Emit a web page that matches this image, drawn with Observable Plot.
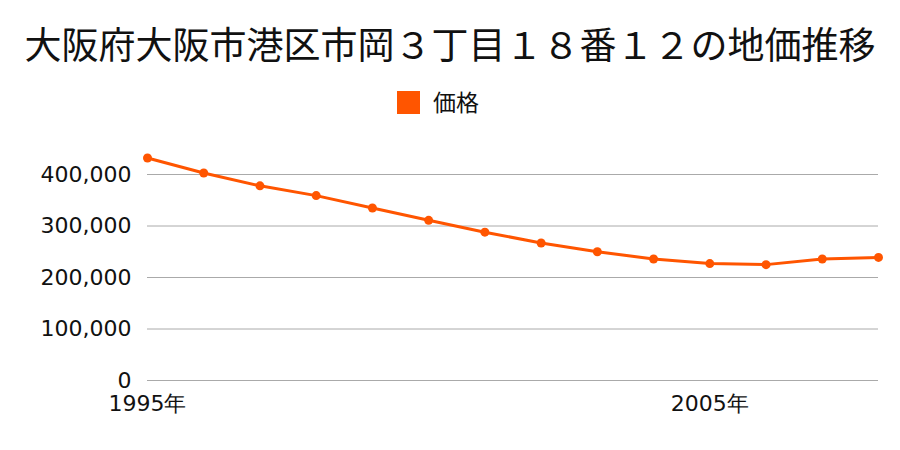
<!DOCTYPE html>
<html>
<head>
<meta charset="utf-8">
<script src="https://cdn.jsdelivr.net/npm/d3@7"></script>
<script src="https://cdn.jsdelivr.net/npm/@observablehq/plot@0.6"></script>
<style>
  html, body { margin: 0; padding: 0; background: #fff; }
  body { width: 900px; height: 450px; position: relative; font-family: "Noto Sans CJK JP", sans-serif; }
  #title { position: absolute; top: 18px; left: 0; width: 900px; text-align: center; font-size: 37px; line-height: 50px; color: #111; }
  #legend { position: absolute; top: 86px; left: 0; width: 876px; text-align: center; font-size: 23px; line-height: 30px; color: #111; }
  #legend .sw { display: inline-block; width: 23px; height: 23px; background: #ff5500; vertical-align: -3px; margin-right: 13px; }
  #chart { position: absolute; top: 130px; left: 0; }
</style>
</head>
<body>
<div id="title">大阪府大阪市港区市岡３丁目１８番１２の地価推移</div>
<div id="legend"><span class="sw"></span>価格</div>
<div id="chart"></div>
<script>
const years = [1995, 1996, 1997, 1998, 1999, 2000, 2001, 2002, 2003, 2004, 2005, 2006, 2007, 2008];
const prices = [432000, 403000, 378000, 359000, 335000, 311000, 288000, 267000, 250000, 236000, 227000, 225000, 236000, 239000];
const yTicks = [0, 100000, 200000, 300000, 400000];
const xTicks = [1995, 2005];
const seriesName = "価格";

const data = years.map((y, i) => ({year: y, price: prices[i], series: seriesName}));
const color = "#ff5500";

const chart = Plot.plot({
  width: 900,
  height: 300,
  marginTop: 18.25,
  marginBottom: 50,
  marginLeft: 147,
  marginRight: 22,
  style: {fontFamily: "'DejaVu Sans', sans-serif", fontSize: "22px", color: "#111", background: "#fff"},
  x: {domain: [1995, 2008]},
  y: {domain: [0, 450000]},
  marks: [
    Plot.ruleY(yTicks, {stroke: "#aaa", strokeWidth: 1}),
    Plot.axisY({ticks: yTicks, tickSize: 0, tickPadding: 16, tickFormat: d3.format(","), label: null, fontSize: 22}),
    Plot.axisX({ticks: xTicks, tickSize: 0, tickPadding: 15, tickFormat: d => d + "年", label: null, fontSize: 22}),
    Plot.line(data, {x: "year", y: "price", stroke: color, strokeWidth: 3}),
    Plot.dot(data, {x: "year", y: "price", fill: color, r: 4.5})
  ]
});
document.getElementById("chart").appendChild(chart);
</script>
</body>
</html>
